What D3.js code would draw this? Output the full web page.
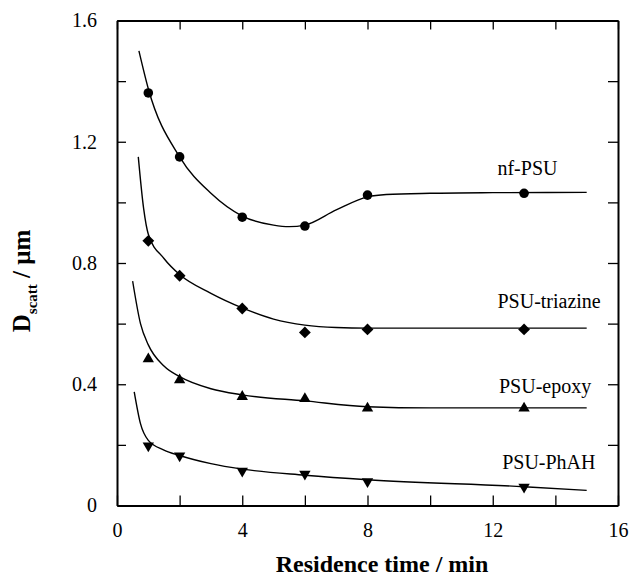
<!DOCTYPE html>
<meta charset="utf-8">
<script src="https://cdn.jsdelivr.net/npm/d3@7"></script>
<style>
  body { margin: 0; background: #fff; }
  text { font-family: "Liberation Serif", "Times New Roman", serif; fill: #000; }
  .axis path, .axis line { stroke: #000; }
  .axis text { font-size: 20px; font-family: "Liberation Serif", "Times New Roman", serif; }
  path.fit { fill: none; stroke: #000; stroke-width: 1.4px; }
</style>
<body>
<script>

// measured points (residence time in min, D_scatt in um)
var times = [1, 2, 4, 6, 8, 13];
var nfPSU    = [1.361, 1.150, 0.951, 0.922, 1.024, 1.030];
var triazine = [0.873, 0.758, 0.650, 0.571, 0.581, 0.581];
var epoxy    = [0.483, 0.414, 0.359, 0.352, 0.321, 0.321];
var phah     = [0.197, 0.164, 0.114, 0.104, 0.079, 0.061];

// fitted curves
var nfFit = [[0.7,1.50],[1,1.375],[2,1.15],[3,1.03],[4,0.955],[5,0.925],[5.5,0.92],[6,0.925],[7,0.975],[8,1.018],[8.6,1.026],[10,1.03],[12,1.032],[15,1.033]];
var triFit = [[0.68,1.15],[0.85,0.98],[1,0.895],[1.5,0.815],[2,0.762],[3,0.70],[4,0.652],[5,0.615],[6,0.595],[7,0.587],[8,0.585],[15,0.585]];
var epoFit = [[0.5,0.74],[0.75,0.60],[1,0.53],[1.5,0.46],[2,0.425],[3,0.385],[4,0.365],[6,0.345],[8,0.326],[10,0.322],[15,0.322]];
var phaFit = [[0.55,0.375],[0.75,0.27],[1,0.215],[1.5,0.183],[2,0.165],[3,0.138],[4,0.12],[6,0.1],[8,0.085],[13,0.062],[15,0.05]];

var labels = ["nf-PSU", "PSU-triazine", "PSU-epoxy", "PSU-PhAH"];
var labelPos = [[12.15, 1.089], [12.15, 0.650], [12.2, 0.372], [12.3, 0.121]];

var xTicks = [0, 2, 4, 6, 8, 10, 12, 14, 16];
var yTicks = [0, 0.2, 0.4, 0.6, 0.8, 1.0, 1.2, 1.4, 1.6];

var width = 630, height = 579;

var x = d3.scaleLinear().domain([0, 16]).range([117, 618]);
var y = d3.scaleLinear().domain([0, 1.6]).range([505.5, 20.5]);

var svg = d3.select("body").append("svg")
    .attr("width", width)
    .attr("height", height);

function xfmt(d) { return d % 4 === 0 ? d : ""; }
function yfmt(d) { return Math.round(d * 10) % 4 === 0 ? (d === 0 ? "0" : d3.format(".1f")(d)) : ""; }

// bottom axis, ticks inward
svg.append("g").attr("class", "axis")
    .attr("transform", "translate(0," + y(0) + ")")
    .call(d3.axisBottom(x).tickValues(xTicks).tickSizeInner(-10).tickSizeOuter(0).tickPadding(17).tickFormat(xfmt))
    .call(function(g) { g.select(".domain").attr("stroke-width", 2); });

// top axis
svg.append("g").attr("class", "axis")
    .attr("transform", "translate(0," + y(1.6) + ")")
    .call(d3.axisTop(x).tickValues(xTicks).tickSizeInner(-9).tickSizeOuter(0).tickFormat(""))
    .call(function(g) { g.select(".domain").attr("stroke-width", 2); });

// left axis
svg.append("g").attr("class", "axis")
    .attr("transform", "translate(" + x(0) + ",0)")
    .call(d3.axisLeft(y).tickValues(yTicks).tickSizeInner(-9).tickSizeOuter(0).tickPadding(20).tickFormat(yfmt))
    .call(function(g) { g.select(".domain").attr("stroke-width", 2); });

// right axis
svg.append("g").attr("class", "axis")
    .attr("transform", "translate(" + x(16) + ",0)")
    .call(d3.axisRight(y).tickValues(yTicks).tickSizeInner(-10).tickSizeOuter(0).tickFormat(""))
    .call(function(g) { g.select(".domain").attr("stroke-width", 2); });

svg.selectAll(".axis line").attr("stroke-width", 1.3);

// fitted lines
var line = d3.line()
    .x(function(d) { return x(d[0]); })
    .y(function(d) { return y(d[1]); })
    .curve(d3.curveMonotoneX);

[nfFit, triFit, epoFit, phaFit].forEach(function(f) {
  svg.append("path").attr("class", "fit").attr("d", line(f));
});

// markers
var series = [
  {vals: nfPSU, sym: d3.symbolCircle, size: 72, rot: 0},
  {vals: triazine, sym: d3.symbolSquare, size: 70, rot: 45},
  {vals: epoxy, sym: d3.symbolTriangle, size: 56, rot: 0},
  {vals: phah, sym: d3.symbolTriangle, size: 56, rot: 180}
];

series.forEach(function(s) {
  svg.append("g").selectAll("path")
      .data(s.vals)
      .enter().append("path")
      .attr("d", d3.symbol().type(s.sym).size(s.size))
      .attr("fill", "#000")
      .attr("transform", function(d, i) {
        return "translate(" + x(times[i]) + "," + y(d) + ") rotate(" + s.rot + ")";
      });
});

// series labels
svg.append("g").selectAll("text")
    .data(labels)
    .enter().append("text")
    .attr("x", function(d, i) { return x(labelPos[i][0]); })
    .attr("y", function(d, i) { return y(labelPos[i][1]); })
    .style("font-size", "20px")
    .text(function(d) { return d; });

// axis titles
svg.append("text")
    .attr("x", 382)
    .attr("y", 572)
    .attr("text-anchor", "middle")
    .style("font-size", "24px")
    .style("font-weight", 700)
    .text("Residence time / min");

var yt = svg.append("text")
    .attr("transform", "translate(30,281) rotate(-90)")
    .attr("text-anchor", "middle")
    .style("font-size", "25px")
    .style("font-weight", 700);
yt.append("tspan").text("D");
yt.append("tspan").attr("dy", 7).style("font-size", "15px").text("scatt");
yt.append("tspan").attr("dy", -7).text(" / \u03bcm");

</script>
</body>
